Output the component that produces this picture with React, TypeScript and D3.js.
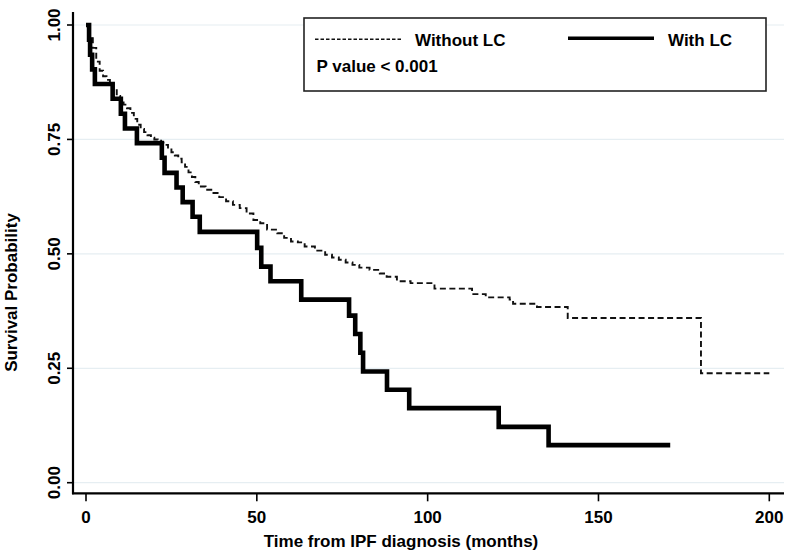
import React from "react";
import * as d3 from "d3";

// ---- Data ----
const withoutLCTimes = [0, 1, 2, 3, 4, 5, 6, 7, 8, 9, 10, 11, 12, 13, 14, 15, 16, 17, 18, 19, 20, 21, 22, 23, 24, 25, 26, 27, 28, 29, 30, 31, 32, 33, 35, 37, 39, 41, 43, 45, 47, 49, 51, 53, 56, 58, 60, 62, 64, 67, 70, 72, 74, 76, 78, 80, 83, 86, 88, 91, 95, 102, 113, 117, 124, 125, 132, 141, 180, 200];
const withoutLCSurv = [1, 0.975, 0.95, 0.92, 0.9, 0.888, 0.88, 0.872, 0.86, 0.845, 0.835, 0.826, 0.818, 0.808, 0.795, 0.782, 0.773, 0.766, 0.759, 0.754, 0.75, 0.747, 0.743, 0.738, 0.73, 0.722, 0.715, 0.708, 0.7, 0.69, 0.678, 0.668, 0.657, 0.647, 0.64, 0.633, 0.624, 0.615, 0.607, 0.6, 0.588, 0.574, 0.567, 0.553, 0.545, 0.535, 0.527, 0.525, 0.516, 0.507, 0.498, 0.492, 0.487, 0.481, 0.476, 0.47, 0.465, 0.457, 0.45, 0.44, 0.436, 0.424, 0.412, 0.405, 0.4, 0.391, 0.384, 0.36, 0.239, 0.239];

const withLCTimes = [0, 0.9, 1.2, 1.8, 2.6, 7.8, 10.2, 11.4, 14.9, 22.2, 23, 26.5, 28.3, 31.2, 33.3, 50.1, 51.3, 54, 63, 77, 78.8, 80.3, 81.1, 88.1, 94.6, 120.8, 135.4, 171];
const withLCSurv = [1, 0.968, 0.935, 0.903, 0.871, 0.839, 0.806, 0.774, 0.742, 0.71, 0.677, 0.645, 0.613, 0.581, 0.548, 0.513, 0.472, 0.44, 0.4, 0.365, 0.325, 0.284, 0.243, 0.203, 0.163, 0.122, 0.082, 0.082];

const xTicks = [0, 50, 100, 150, 200];
const yTicks = [0, 0.25, 0.5, 0.75, 1];
const yTickLabels = ["0.00", "0.25", "0.50", "0.75", "1.00"];

const xTitle = "Time from IPF diagnosis (months)";
const yTitle = "Survival Probability";
const legendWithout = "Without LC";
const legendWith = "With LC";
const pValueText = "P value < 0.001";

const W = 787;
const H = 553;
const FONT = "'Liberation Sans', Arial, Helvetica, sans-serif";

export default function App() {
  const x = d3.scaleLinear().domain([0, 200]).range([86, 769.3]);
  const y = d3.scaleLinear().domain([0, 1]).range([482.7, 25]);

  const line = d3
    .line<[number, number]>()
    .x((d) => x(d[0]))
    .y((d) => y(d[1]))
    .curve(d3.curveStepAfter);

  const withoutPts: [number, number][] = withoutLCTimes.map((t, i) => [t, withoutLCSurv[i]]);
  const withPts: [number, number][] = withLCTimes.map((t, i) => [t, withLCSurv[i]]);

  const axisX = 73;
  const axisY = 493.3;

  return (
    <div style={{ position: "absolute", left: 0, top: 0 }}>
      <svg width={W} height={H} style={{ display: "block", background: "#fff" }}>
        {/* gridlines */}
        {yTicks.map((v) => (
          <line key={"g" + v} x1={axisX} x2={784} y1={y(v)} y2={y(v)} stroke="#e6eef2" strokeWidth={1.2} />
        ))}
        {/* curves */}
        <path d={line(withoutPts) || ""} fill="none" stroke="#111" strokeWidth={1.9} strokeDasharray="6,3.5" />
        <path d={line(withPts) || ""} fill="none" stroke="#000" strokeWidth={4.6} strokeLinejoin="miter" />

        {/* axes */}
        <line x1={axisX} x2={axisX} y1={12} y2={axisY + 1} stroke="#000" strokeWidth={2.2} />
        <line x1={axisX - 1} x2={784} y1={axisY} y2={axisY} stroke="#000" strokeWidth={2.2} />
        {yTicks.map((v, i) => (
          <g key={"yt" + v}>
            <line x1={axisX - 6} x2={axisX} y1={y(v)} y2={y(v)} stroke="#000" strokeWidth={1.6} />
            <text
              x={60}
              y={y(v)}
              transform={`rotate(-90, 60, ${y(v)})`}
              textAnchor="middle"
              fontFamily={FONT}
              fontWeight="bold"
              fontSize={17}
              fill="#000"
            >
              {yTickLabels[i]}
            </text>
          </g>
        ))}
        {xTicks.map((v) => (
          <g key={"xt" + v}>
            <line x1={x(v)} x2={x(v)} y1={axisY} y2={axisY + 8} stroke="#000" strokeWidth={1.6} />
            <text x={x(v)} y={523.3} textAnchor="middle" fontFamily={FONT} fontWeight="bold" fontSize={17} fill="#000">
              {v}
            </text>
          </g>
        ))}
        <text x={401} y={546.5} textAnchor="middle" fontFamily={FONT} fontWeight="bold" fontSize={17} fill="#000">
          {xTitle}
        </text>
        <text
          x={17}
          y={292.5}
          transform="rotate(-90, 17, 292.5)"
          textAnchor="middle"
          fontFamily={FONT}
          fontWeight="bold"
          fontSize={17}
          fill="#000"
        >
          {yTitle}
        </text>

        {/* legend */}
        <rect x={304} y={18} width={462} height={73} fill="#fff" stroke="#222" strokeWidth={1.6} />
        <line x1={315} x2={402} y1={39.3} y2={39.3} stroke="#111" strokeWidth={1.4} strokeDasharray="3.5,2" />
        <text x={415} y={45.7} fontFamily={FONT} fontWeight="bold" fontSize={17} fill="#000">
          {legendWithout}
        </text>
        <line x1={568} x2={654} y1={38.3} y2={38.3} stroke="#000" strokeWidth={3.4} />
        <text x={668} y={45.7} fontFamily={FONT} fontWeight="bold" fontSize={17} fill="#000">
          {legendWith}
        </text>
        <text x={316.5} y={71.7} fontFamily={FONT} fontWeight="bold" fontSize={17} fill="#000">
          {pValueText}
        </text>
      </svg>
    </div>
  );
}
